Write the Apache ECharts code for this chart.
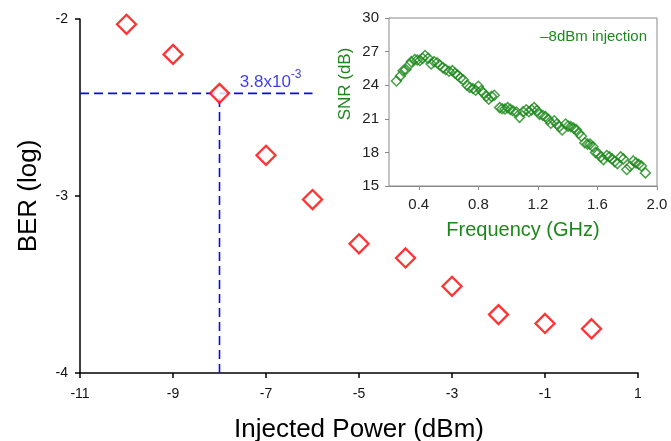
<!DOCTYPE html>
<html>
<head>
<meta charset="utf-8">
<script src="https://cdn.jsdelivr.net/npm/echarts@6/dist/echarts.min.js"></script>
<style>html,body{margin:0;padding:0;background:#fff}#c{width:671px;height:441px}</style>
</head>
<body>
<div id="c"></div>
<script>
// Main chart: BER vs injected power
var powerDbm = [-10, -9, -8, -7, -6, -5, -4, -3, -2, -1, 0];
var berLog = [-2.03, -2.20, -2.42, -2.77, -3.02, -3.27, -3.35, -3.51, -3.67, -3.72, -3.75];
var mainXTicks = [-11, -9, -7, -5, -3, -1, 1];
var mainYTicks = [-4, -3, -2];
var thresholdBer = Math.log10(3.8e-3);
var thresholdPower = -8;
var hLineX = [-11, -6];
var annotationX = -6.9;

// Inset: SNR vs frequency at -8 dBm injection
var freqGHz = [0.25,0.277,0.295,0.313,0.335,0.35,0.373,0.39,0.407,0.425,0.442,0.463,0.483,0.503,0.523,0.54,0.563,0.58,0.603,0.626,0.644,0.661,0.68,0.70,0.724,0.742,0.764,0.782,0.80,0.818,0.836,0.854,0.87,0.889,0.907,0.943,0.96,0.979,0.997,1.015,1.032,1.055,1.077,1.10,1.122,1.14,1.158,1.175,1.193,1.211,1.234,1.25,1.269,1.287,1.31,1.327,1.345,1.363,1.386,1.403,1.421,1.44,1.457,1.475,1.493,1.515,1.533,1.55,1.569,1.587,1.605,1.622,1.64,1.663,1.68,1.698,1.716,1.734,1.756,1.774,1.797,1.819,1.841,1.859,1.877,1.895,1.922];
var snrDb = [24.38,24.83,25.28,25.4,25.8,26.1,26.3,26.25,26.2,26.4,26.65,26.4,25.9,26.1,26.0,25.8,25.55,25.4,25.25,25.3,25.07,24.9,24.65,24.47,24.0,23.8,23.7,23.55,23.9,23.5,23.3,23.0,22.74,23.0,23.1,22.0,21.9,21.87,22.0,21.84,21.72,21.6,21.13,21.63,21.8,21.63,21.8,22.0,21.73,21.4,21.3,21.2,20.95,20.6,20.83,20.53,20.3,20.0,20.53,20.35,20.3,20.17,20.05,19.7,19.45,18.86,18.74,18.74,18.5,18.0,17.9,17.6,17.36,17.72,17.6,17.42,17.18,17.0,17.6,17.42,16.47,16.76,17.24,17.06,16.94,16.79,16.17];
var insetXTicks = [0.4, 0.8, 1.2, 1.6, 2.0];
var insetYTicks = [15, 18, 21, 24, 27, 30];

var FONT = '"Liberation Sans", Arial, sans-serif';
var GREEN = '#1c881c';
var BLUE = '#0a0ae6';

var mainData = powerDbm.map(function (p, i) { return [p, berLog[i]]; });
var insetData = freqGHz.map(function (f, i) { return [f, snrDb[i]]; });

var chart = echarts.init(document.getElementById('c'), null, {renderer: 'canvas'});
chart.setOption({
  animation: false,
  backgroundColor: '#fff',
  textStyle: {fontFamily: FONT},
  grid: [
    {left: 80, right: 33, top: 19, bottom: 68, containLabel: false, outerBoundsMode: 'none'},
    {left: 389, right: 14, top: 18, bottom: 255, containLabel: false, outerBoundsMode: 'none', show: true,
     backgroundColor: '#fff', borderColor: '#8a8a8a', borderWidth: 1, z: 5}
  ],
  xAxis: [
    {gridIndex: 0, type: 'value', min: -11, max: 1, interval: 2,
     axisLine: {show: true, onZero: false, lineStyle: {color: '#000', width: 1.5}},
     axisTick: {show: true, length: 5, lineStyle: {color: '#000', width: 1.5}, customValues: mainXTicks},
     axisLabel: {color: '#111', fontSize: 14, margin: 14, fontFamily: FONT, customValues: mainXTicks},
     splitLine: {show: false},
     name: 'Injected Power (dBm)', nameLocation: 'middle', nameGap: 44,
     nameTextStyle: {color: '#000', fontSize: 26, fontFamily: FONT}},
    {gridIndex: 1, type: 'value', min: 0.2, max: 2.0,
     axisLine: {show: true, onZero: false, lineStyle: {color: '#8a8a8a', width: 1}},
     axisTick: {show: true, length: 4, lineStyle: {color: '#8a8a8a'}, customValues: insetXTicks},
     axisLabel: {color: '#222', fontSize: 15, margin: 11, fontFamily: FONT, customValues: insetXTicks,
       formatter: function (v) { return v.toFixed(1); }},
     splitLine: {show: false},
     name: 'Frequency (GHz)', nameLocation: 'middle', nameGap: 34,
     nameTextStyle: {color: GREEN, fontSize: 20, fontFamily: FONT}}
  ],
  yAxis: [
    {gridIndex: 0, type: 'value', min: -4, max: -2, interval: 1,
     axisLine: {show: true, onZero: false, lineStyle: {color: '#000', width: 1.5}},
     axisTick: {show: true, length: 5, lineStyle: {color: '#000', width: 1.5}},
     axisLabel: {color: '#111', fontSize: 14, margin: 12, fontFamily: FONT},
     splitLine: {show: false},
     name: 'BER (log)', nameLocation: 'middle', nameGap: 38,
     nameTextStyle: {color: '#000', fontSize: 26, fontFamily: FONT}},
    {gridIndex: 1, type: 'value', min: 15, max: 30, interval: 3,
     axisLine: {show: true, onZero: false, lineStyle: {color: '#8a8a8a', width: 1}},
     axisTick: {show: true, length: 4, lineStyle: {color: '#8a8a8a'}},
     axisLabel: {color: '#222', fontSize: 15, margin: 10, fontFamily: FONT},
     splitLine: {show: false}}
  ],
  graphic: [
    {type: 'text', x: 345, y: 84, rotation: Math.PI / 2, z: 100,
     style: {text: 'SNR (dB)', fill: GREEN, font: '17px ' + FONT, align: 'center', verticalAlign: 'middle'}},
    {type: 'text', x: 647, y: 37, z: 100,
     style: {text: '\u20138dBm injection', fill: GREEN, font: '15px ' + FONT, align: 'right', verticalAlign: 'middle'}}
  ],
  series: [
    {name: 'hline', type: 'line', xAxisIndex: 0, yAxisIndex: 0, symbol: 'none', silent: true,
     data: hLineX.map(function (x) { return [x, thresholdBer]; }),
     lineStyle: {color: BLUE, width: 1.6, type: [9, 5]}, z: 2},
    {name: 'vline', type: 'line', xAxisIndex: 0, yAxisIndex: 0, symbol: 'none', silent: true,
     data: [[thresholdPower, -4], [thresholdPower, thresholdBer]],
     lineStyle: {color: BLUE, width: 1.6, type: [9, 5]}, z: 2},
    {name: 'annotation', type: 'scatter', xAxisIndex: 0, yAxisIndex: 0, symbolSize: 0, silent: true,
     data: [[annotationX, thresholdBer]],
     label: {show: true, position: 'top', distance: 3,
       formatter: '{a|3.8x10}{b|-3}',
       rich: {a: {color: BLUE, fontSize: 17, fontFamily: FONT, verticalAlign: 'bottom'},
              b: {color: BLUE, fontSize: 12, fontFamily: FONT, verticalAlign: 'top', padding: [0, 0, 10, 0]}}}},
    {name: 'BER', type: 'scatter', xAxisIndex: 0, yAxisIndex: 0, symbol: 'diamond', symbolSize: 19,
     data: mainData, z: 3,
     itemStyle: {color: '#fff', borderColor: '#ff0000', borderWidth: 2.3}},
    {name: 'SNR', type: 'scatter', xAxisIndex: 1, yAxisIndex: 1, symbol: 'diamond', symbolSize: 10,
     data: insetData, z: 10,
     itemStyle: {color: 'rgba(255,255,255,0)', borderColor: GREEN, borderWidth: 1.5}}
  ]
});
</script>
</body>
</html>
